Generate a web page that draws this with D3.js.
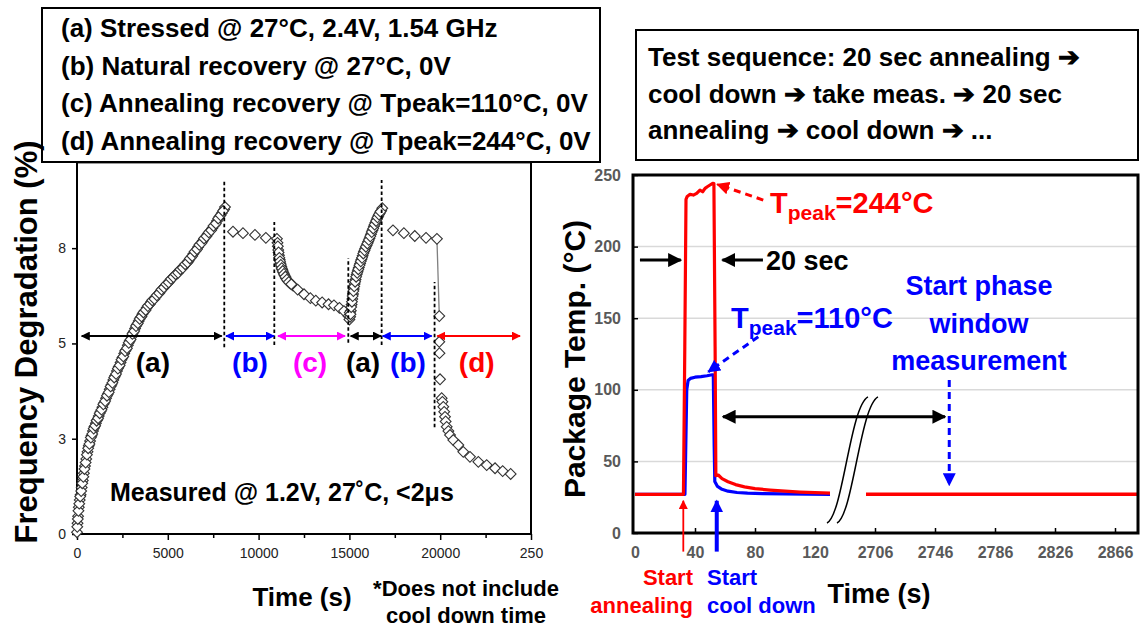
<!DOCTYPE html>
<html><head><meta charset="utf-8">
<script src="https://cdn.jsdelivr.net/npm/d3@7"></script>
<style>body{margin:0;background:#fff} text{font-family:Arial,"Liberation Sans",sans-serif;}</style>
</head><body><svg id="c" width="1141" height="627"></svg>
<script>
// ---------- LEFT CHART DATA (time s, frequency degradation %) ----------
const stressA1 = [[0,0.05],[30,0.3],[60,0.5],[100,0.75],[150,0.95],[200,1.1],[260,1.3],[320,1.5],[380,1.7],[440,1.9],[510,2.1],[580,2.3],[650,2.47],[720,2.6],[800,2.75],[880,2.88],[960,3.0],[1040,3.1],[1120,3.2],[1200,3.3],[1300,3.43],[1400,3.55],[1500,3.67],[1600,3.8],[1700,3.92],[1800,4.05],[1900,4.18],[2000,4.31],[2100,4.43],[2200,4.56],[2300,4.68],[2400,4.8],[2500,4.93],[2600,5.05],[2700,5.16],[2800,5.28],[2900,5.4],[3000,5.52],[3100,5.64],[3200,5.75],[3300,5.86],[3400,5.96],[3500,6.06],[3600,6.15],[3720,6.24],[3840,6.33],[3960,6.41],[4080,6.49],[4200,6.56],[4330,6.63],[4460,6.71],[4590,6.79],[4720,6.87],[4850,6.94],[4980,7.01],[5110,7.09],[5240,7.16],[5370,7.23],[5500,7.29],[5630,7.36],[5760,7.43],[5890,7.5],[6020,7.57],[6150,7.65],[6280,7.74],[6410,7.84],[6540,7.93],[6670,8.03],[6800,8.12],[6930,8.21],[7060,8.3],[7190,8.39],[7320,8.47],[7450,8.56],[7580,8.65],[7710,8.76],[7840,8.88],[7970,8.98],[8100,9.08],[8150,9.15]];
const stressA1b = [[15,0.2],[45,0.42],[80,0.65],[125,0.85],[175,1.05],[230,1.2],[290,1.42],[350,1.6],[410,1.82],[475,2.0],[545,2.22],[615,2.4],[685,2.52],[760,2.7],[840,2.8],[920,2.95],[1000,3.03],[1080,3.17],[1160,3.24],[1250,3.38],[1350,3.48],[1450,3.63],[1550,3.72],[1650,3.87],[1750,3.97],[1850,4.13],[1950,4.23],[2050,4.38],[2150,4.48],[2250,4.63],[2350,4.72],[2450,4.88],[2550,4.97],[2650,5.12],[2750,5.2],[2850,5.35],[2950,5.44],[3050,5.6],[3150,5.68],[3250,5.82],[3350,5.9],[3450,6.02],[3550,6.09],[3660,6.2],[3780,6.27],[3900,6.38],[4020,6.44],[4140,6.54],[4265,6.58],[4395,6.68],[4525,6.74],[4655,6.84],[4785,6.9],[4915,6.99],[5045,7.04],[5175,7.14],[5305,7.19],[5435,7.27],[5565,7.31],[5695,7.41],[5825,7.45],[5955,7.55],[6085,7.6],[6215,7.71],[6345,7.78],[6475,7.9],[6605,7.97],[6735,8.09],[6865,8.15],[6995,8.27],[7125,8.33],[7255,8.44],[7385,8.5],[7515,8.62],[7645,8.69],[7775,8.83],[7905,8.92],[8040,9.04]];
const naturalB1 = [[8590,8.46],[9140,8.42],[9800,8.37],[10400,8.29],[11010,8.26]];
const annealC = [[11040,8.15],[11080,7.95],[11120,7.8],[11160,7.68],[11200,7.58],[11250,7.48],[11300,7.4],[11360,7.32],[11430,7.24],[11510,7.16],[11600,7.09],[11720,7.02],[11900,6.95],[12150,6.84],[12500,6.71],[12850,6.6],[13150,6.53],[13500,6.48],[13850,6.43],[14150,6.4],[14450,6.33],[14700,6.24]];
const annealCb = [[11060,8.05],[11100,7.88],[11140,7.73],[11180,7.63],[11225,7.53],[11275,7.44],[11330,7.36],[11395,7.28],[11470,7.2],[11555,7.12],[11660,7.05],[11800,6.99]];
const stressA2 = [[14950,6.1],[15000,6.0],[15040,6.08],[15080,6.25],[15120,6.42],[15160,6.58],[15200,6.72],[15240,6.86],[15290,7.0],[15340,7.12],[15400,7.26],[15460,7.36],[15520,7.46],[15590,7.57],[15660,7.68],[15730,7.79],[15800,7.9],[15870,7.99],[15950,8.08],[16030,8.18],[16110,8.28],[16190,8.39],[16270,8.5],[16350,8.61],[16430,8.71],[16510,8.81],[16590,8.9],[16670,8.98],[16750,9.05],[16810,9.12]];
const stressA2b = [[15020,6.2],[15060,6.15],[15100,6.35],[15140,6.5],[15180,6.66],[15220,6.8],[15265,6.93],[15315,7.06],[15370,7.2],[15430,7.31],[15490,7.41],[15555,7.52],[15625,7.63],[15695,7.73],[15765,7.85],[15835,7.94],[15910,8.04],[15990,8.13],[16070,8.23],[16150,8.33],[16230,8.45],[16310,8.55],[16390,8.66],[16470,8.76],[16550,8.86],[16630,8.94],[16710,9.02]];
const naturalB2 = [[17400,8.5],[18000,8.42],[18600,8.34],[19220,8.29],[19820,8.26]];
const annealD = [[19950,6.1],[19950,5.38],[19960,5.06],[19990,4.33],[20080,3.8],[20120,3.7],[20170,3.56],[20220,3.42],[20264,3.28],[20300,3.15],[20358,3.0],[20450,2.88],[20540,2.77],[20720,2.63],[21000,2.49],[21270,2.3],[21640,2.16],[22100,2.02],[22560,1.93],[23020,1.84],[23440,1.76],[23880,1.68]];
const leftXTicks = [0,5000,10000,15000,20000,25000];
const leftXTickLabels = ["0","5000","10000","15000","20000","250"];
const leftXMinor = [2500,7500,12500,17500,22500];
const leftYTicks = [0,8/3,16/3,8];
const leftYTickLabels = ["0","3","5","8"];
const phaseBounds = [[8110,5.23,9.91],[10865,5.29,8.73],[14940,5.35,7.72],[16775,5.29,9.91],[19690,2.99,7.05]];
const phaseSpans = [["(a)",260,7970,4180,"#000000"],["(b)",8205,10850,9525,"#0000ff"],["(c)",11070,14760,12830,"#ff00ff"],["(a)",15070,16740,15750,"#000000"],["(b)",16835,19530,18225,"#0000ff"],["(d)",19840,24395,22010,"#ff0000"]];
const phaseArrowY = 5.54;
const legendLines = ["(a) Stressed @ 27°C, 2.4V, 1.54 GHz","(b) Natural recovery @ 27°C, 0V","(c) Annealing recovery @ Tpeak=110°C, 0V","(d) Annealing recovery @ Tpeak=244°C, 0V"];

// ---------- RIGHT CHART DATA (time s, package temp °C) ----------
const redTemp = [[0,27],[32.3,27],[33.2,130],[34,233],[34.8,235],[36.7,236.5],[38.9,236],[41.1,237.2],[43.3,239.5],[45.1,238.3],[46.7,240.7],[48.2,241.8],[50,243],[51.8,244.2],[52.6,244],[53.4,130],[53.9,40],[55.5,40.5],[58,38],[62,35.8],[67,33.8],[73,32.2],[80,31],[90,30],[100,29.2],[110,28.6],[120,28.2],[130,27.8]];
const blueTemp = [[0,27],[33.3,27],[34.5,100],[35.4,106.5],[37,108],[40,108.8],[44,109.2],[48,109.8],[51.5,110.5],[52.2,110.5],[52.8,60],[53.2,36],[55,32.5],[58,30.5],[62,29.2],[68,28.3],[75,27.8],[85,27.5],[100,27.3],[115,27.1],[130,27]];
const redTemp2 = [[2700,27],[2882,27]];
const rightXTicks = [0,40,80,120,2706,2746,2786,2826,2866];
const rightYTicks = [0,50,100,150,200,250];
const rightGrid = [50,100,150,200];
const seqLines = ["Test sequence: 20 sec annealing \u2794","cool down \u2794 take meas. \u2794 20 sec","annealing \u2794 cool down \u2794 ..."];

const svg = d3.select("#c");
const defs = svg.append("defs");
function marker(id, color, size){
  defs.append("marker").attr("id",id).attr("viewBox","0 0 10 10").attr("refX",9).attr("refY",5)
    .attr("markerWidth",size).attr("markerHeight",size).attr("markerUnits","userSpaceOnUse")
    .attr("orient","auto-start-reverse").append("path").attr("d","M0,0L10,5L0,10z").attr("fill",color);
}
marker("mk","#000",9); marker("mb","#0000ff",9); marker("mm","#ff00ff",9); marker("mr","#ff0000",9);
marker("MK","#000",14); marker("MB","#0000ff",13); marker("MR","#ff0000",13); marker("mr2","#ff0000",9);
const mkFor = {"#000000":"mk","#0000ff":"mb","#ff00ff":"mm","#ff0000":"mr"};

// ================= LEFT =================
const xL = d3.scaleLinear().domain([0,25000]).range([77,531]);
const yL = d3.scaleLinear().domain([0,10.4]).range([534,162.4]);
const gL = svg.append("g");

const axB = gL.append("g").attr("transform","translate(0,534)")
  .call(d3.axisBottom(xL).tickValues(leftXTicks).tickSize(6).tickPadding(8).tickFormat((d,i)=>leftXTickLabels[i]));
axB.select(".domain").remove();
axB.selectAll("text").attr("font-size",14).attr("fill","#222").attr("font-family","Arial");
axB.selectAll("line").attr("stroke","#000").attr("stroke-width",1.5);
const axBm = gL.append("g").attr("transform","translate(0,534)")
  .call(d3.axisBottom(xL).tickValues(leftXMinor).tickSize(4).tickFormat(""));
axBm.select(".domain").remove(); axBm.selectAll("line").attr("stroke","#000").attr("stroke-width",1.5);
const axL = gL.append("g").attr("transform","translate(77,0)")
  .call(d3.axisLeft(yL).tickValues(leftYTicks).tickSize(5).tickPadding(6).tickFormat((d,i)=>leftYTickLabels[i]));
axL.select(".domain").remove();
axL.selectAll("text").attr("font-size",14).attr("fill","#222").attr("font-family","Arial");
axL.selectAll("line").attr("stroke","#000").attr("stroke-width",1.5);

gL.append("rect").attr("x",xL(0)).attr("y",yL(10.4)).attr("width",xL(25000)-xL(0)).attr("height",yL(0)-yL(10.4))
  .attr("fill","none").attr("stroke","#000").attr("stroke-width",2);

const lineL = d3.line().x(d=>xL(d[0])).y(d=>yL(d[1]));
gL.append("path").attr("d",lineL([naturalB2[naturalB2.length-1],annealD[0]])).attr("stroke","#808080").attr("stroke-width",1.3).attr("fill","none");

const allPts = [].concat(stressA1,stressA1b,naturalB1,annealC,annealCb,stressA2,stressA2b,naturalB2,annealD);
const sym = d3.symbol(d3.symbolSquare,58);
gL.append("g").selectAll("path").data(allPts).join("path")
  .attr("d",sym).attr("transform",d=>`translate(${xL(d[0])},${yL(d[1])}) rotate(45)`)
  .attr("fill","#fff").attr("stroke","#333").attr("stroke-width",1.1);

gL.append("g").selectAll("line").data(phaseBounds).join("line")
  .attr("x1",d=>xL(d[0])).attr("x2",d=>xL(d[0])).attr("y1",d=>yL(d[1])).attr("y2",d=>yL(d[2]))
  .attr("stroke","#000").attr("stroke-width",1.8).attr("stroke-dasharray","3.5,2.5");

phaseSpans.forEach(p=>{
  const m = mkFor[p[4]];
  gL.append("line").attr("x1",xL(p[1])).attr("x2",xL(p[2])).attr("y1",yL(phaseArrowY)).attr("y2",yL(phaseArrowY))
    .attr("stroke",p[4]).attr("stroke-width",2).attr("marker-start",`url(#${m})`).attr("marker-end",`url(#${m})`);
  gL.append("text").attr("x",xL(p[3])).attr("y",372).attr("text-anchor","middle").attr("font-size",28)
    .attr("font-weight","bold").attr("fill",p[4]).text(p[0]);
});

gL.append("text").attr("x",110).attr("y",501).attr("font-size",25).attr("font-weight","bold").text("Measured @ 1.2V, 27\u02DAC, <2\u03BCs");

svg.append("rect").attr("x",42).attr("y",8).attr("width",558).attr("height",154).attr("fill","#fff").attr("stroke","#000").attr("stroke-width",2);
svg.append("g").selectAll("text").data(legendLines).join("text")
  .attr("x",61).attr("y",(d,i)=>37+i*37.7).attr("font-size",26).attr("font-weight","bold").text(d=>d);

svg.append("text").attr("transform","translate(37,342) rotate(-90)").attr("text-anchor","middle")
  .attr("font-size",31).attr("font-weight","bold").text("Frequency Degradation (%)");
svg.append("text").attr("x",302).attr("y",606).attr("text-anchor","middle").attr("font-size",26).attr("font-weight","bold").text("Time (s)");
svg.append("text").attr("x",466).attr("y",596).attr("text-anchor","middle").attr("font-size",22).attr("font-weight","bold").text("*Does not include");
svg.append("text").attr("x",466).attr("y",623).attr("text-anchor","middle").attr("font-size",22).attr("font-weight","bold").text("cool down time");

// ================= RIGHT =================
const xR = d3.scaleLinear().domain([0,150,2696,2882]).range([635,860,860,1139]);
const yR = d3.scaleLinear().domain([0,250]).range([533,175]);
const gR = svg.append("g");

gR.append("g").selectAll("line").data(rightGrid).join("line")
  .attr("x1",633).attr("x2",1138).attr("y1",d=>yR(d)).attr("y2",d=>yR(d)).attr("stroke","#d9d9d9").attr("stroke-width",1.5);

const axRB = gR.append("g").attr("transform","translate(0,533)")
  .call(d3.axisBottom(xR).tickValues(rightXTicks).tickSizeInner(-5).tickSizeOuter(0).tickPadding(14).tickFormat(d3.format("d")));
axRB.select(".domain").remove();
axRB.selectAll("line").attr("stroke","#000").attr("stroke-width",1.5).filter(d=>d===0).remove();
axRB.selectAll("text").attr("font-size",16).attr("font-weight","bold").attr("fill","#595959");
const axRL = gR.append("g").attr("transform","translate(633,0)")
  .call(d3.axisLeft(yR).tickValues(rightYTicks).tickSizeInner(-5).tickSizeOuter(0).tickPadding(12));
axRL.select(".domain").remove();
axRL.selectAll("line").attr("stroke","#000").attr("stroke-width",1.5);
axRL.selectAll("text").attr("font-size",16).attr("font-weight","bold").attr("fill","#595959");

const lineR = d3.line().x(d=>xR(d[0])).y(d=>yR(d[1]));
gR.append("path").attr("d",lineR(blueTemp)).attr("stroke","#0000ff").attr("stroke-width",3.2).attr("fill","none").attr("stroke-linejoin","round");
gR.append("path").attr("d",lineR(redTemp)).attr("stroke","#ff0000").attr("stroke-width",3.2).attr("fill","none").attr("stroke-linejoin","round");
gR.append("path").attr("d",lineR(redTemp2)).attr("stroke","#ff0000").attr("stroke-width",3.5).attr("fill","none");

gR.append("rect").attr("x",633).attr("y",yR(250)).attr("width",1138-633).attr("height",yR(0)-yR(250))
  .attr("fill","none").attr("stroke","#000").attr("stroke-width",3);

[0,10].forEach(off=>{
  const x0 = xR(128)+off, y0 = yR(7), x1 = xR(2701.3)+off, y1 = yR(95);
  gR.append("path").attr("d",`M${x0},${y0} C${x0+16},${y0-8} ${x1-18},${y1+10} ${x1},${y1}`)
    .attr("fill","none").attr("stroke","#000").attr("stroke-width",1.5);
});

function arrow(t0,v0,t1,v1,color,w,mk,dash,both){
  const l = gR.append("line").attr("x1",xR(t0)).attr("y1",yR(v0)).attr("x2",xR(t1)).attr("y2",yR(v1))
    .attr("stroke",color).attr("stroke-width",w).attr("marker-end",`url(#${mk})`);
  if(dash) l.attr("stroke-dasharray",dash);
  if(both) l.attr("marker-start",`url(#${mk})`);
}
arrow(85.5,232.5,54.9,243.5,"#ff0000",3,"MR","7,5");
arrow(3.3,190.6,30.5,190.6,"#000",3,"MK");
arrow(85.3,190.6,58.3,190.6,"#000",3,"MK");
arrow(82.2,137,48.9,112.6,"#0000ff",3,"MB","7,5");
arrow(58.7,81.2,2752.7,81.2,"#000",3,"MK",null,true);
arrow(2755.5,106.8,2755.5,33.5,"#0000ff",3,"MB","7,5");
arrow(32.2,-13,32.2,22.5,"#ff0000",1.8,"mr2");
arrow(54.5,-13,54.5,22.5,"#0000ff",4,"MB");

function tpeak(x,y,color,rest){
  const t = svg.append("text").attr("x",x).attr("y",y).attr("font-weight","bold").attr("fill",color);
  t.append("tspan").attr("font-size",29).text("T");
  t.append("tspan").attr("font-size",21).attr("dy",7).text("peak");
  t.append("tspan").attr("font-size",29).attr("dy",-7).text(rest);
}
tpeak(770,213,"#ff0000","=244°C");
tpeak(731,328,"#0000ff","=110°C");
svg.append("text").attr("x",766).attr("y",270).attr("font-size",27).attr("font-weight","bold").text("20 sec");
["Start phase","window","measurement"].forEach((s,i)=>{
  svg.append("text").attr("x",979).attr("y",295+i*37.5).attr("text-anchor","middle").attr("font-size",27).attr("font-weight","bold").attr("fill","#0000ff").text(s);
});
svg.append("text").attr("x",693).attr("y",585).attr("text-anchor","end").attr("font-size",22).attr("font-weight","bold").attr("fill","#ff0000").text("Start");
svg.append("text").attr("x",693).attr("y",613).attr("text-anchor","end").attr("font-size",22).attr("font-weight","bold").attr("fill","#ff0000").text("annealing");
svg.append("text").attr("x",707).attr("y",585).attr("font-size",22).attr("font-weight","bold").attr("fill","#0000ff").text("Start");
svg.append("text").attr("x",707).attr("y",613).attr("font-size",22).attr("font-weight","bold").attr("fill","#0000ff").text("cool down");
svg.append("text").attr("x",879).attr("y",603).attr("text-anchor","middle").attr("font-size",27).attr("font-weight","bold").text("Time (s)");
svg.append("text").attr("transform","translate(585,359) rotate(-90)").attr("text-anchor","middle")
  .attr("font-size",30).attr("font-weight","bold").text("Package Temp. (°C)");

svg.append("rect").attr("x",636).attr("y",30).attr("width",502).attr("height",130).attr("fill","#fff").attr("stroke","#000").attr("stroke-width",2);
svg.append("g").selectAll("text").data(seqLines).join("text")
  .attr("x",648).attr("y",(d,i)=>66+i*36.5).attr("font-size",26).attr("font-weight","bold").text(d=>d);
</script></body></html>
